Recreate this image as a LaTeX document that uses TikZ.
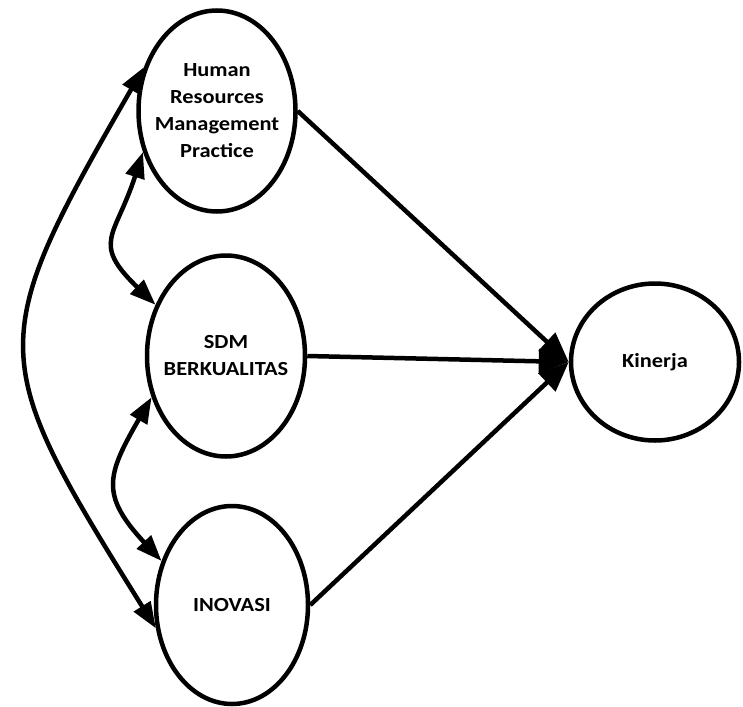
\documentclass[tikz,border=0pt]{standalone}
\usepackage{fontspec}
\setmainfont{Carlito}[FakeStretch=1.12]
\usetikzlibrary{shapes.geometric,arrows.meta}
\begin{document}
\begin{tikzpicture}[x=1pt,y=1pt,
  var/.style={ellipse,draw,line width=4.5pt,inner sep=0pt},
  txt/.style={font=\bfseries\fontsize{20}{27}\selectfont,align=center,inner sep=0pt},
  link/.style={line width=4.5pt,-{Triangle[length=30pt,width=24pt]}},
  both/.style={line width=4.5pt,{Triangle[length=26pt,width=19pt]}-{Triangle[length=26pt,width=19pt]}}]
\useasboundingbox (0,0) rectangle (743,-706);
\node[var,minimum width=157pt,minimum height=201pt] (h) at (217,-111) {};
\node[var,minimum width=158pt,minimum height=201pt] (s) at (226,-356) {};
\node[var,minimum width=152pt,minimum height=198pt] (i) at (232,-605) {};
\node[var,minimum width=168pt,minimum height=157pt] (k) at (655,-362) {};
\node[txt] (ht) at (h.center) {Human\\Resources\\Management\\Practice};
\node[txt] (st) at (s.center) {SDM\\BERKUALITAS};
\node[txt] (it) at (i.center) {INOVASI};
\node[txt] (kt) at (k.center) {Kinerja};
\draw[link] (h.east) -- (k.west);
\draw[link] (s.east) -- (k.west);
\draw[link] (i.east) -- (k.west);
\draw[both] (h.149) .. controls +(240:320pt) and +(122:320pt) .. (i.197);
\draw[both] (h.209) .. controls +(252:90pt) and +(136:90pt) .. (s.144);
\draw[both] (s.209) .. controls +(240:90pt) and +(133:90pt) .. (i.148);
\end{tikzpicture}
\end{document}
